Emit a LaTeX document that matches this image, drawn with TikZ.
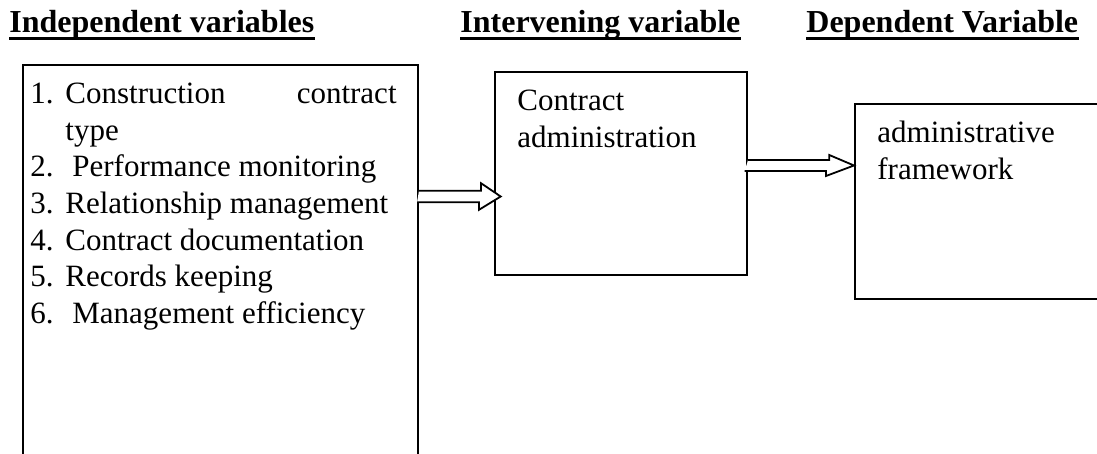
\documentclass[tikz,border=0pt]{standalone}
\usepackage{fontspec}
\setmainfont{Liberation Serif}
\begin{document}
\begin{tikzpicture}[x=0.5pt,y=-0.5pt,
  box/.style={draw,line width=1pt,inner sep=0pt,anchor=north west},
  title/.style={font=\fontsize{16}{19}\selectfont\bfseries,anchor=base west,inner sep=0pt},
  body/.style={font=\fontsize{15.5}{18.25}\selectfont,anchor=base west,inner sep=0pt},
  uline/.style={line width=1.5pt},
  dblarrow/.style={draw,line width=0.9pt,fill=white,line join=miter}]
\useasboundingbox (0,0) rectangle (1097,454);
% titles
\node[title] (t1) at (9,33) {Independent variables};
\node[title] (t2) at (460,33) {Intervening variable};
\node[title] (t3) at (806,33) {Dependent Variable};
\foreach \t in {t1,t2,t3}{
  \draw[uline] ([yshift=-2.6pt]\t.base west) -- ([yshift=-2.6pt]\t.base east);
}
% boxes
\node[box,minimum width=197.75pt,minimum height=215pt] (b1) at (21.5,64) {};
\node[box,minimum width=126pt,minimum height=101.5pt] (b2) at (494,71) {};
\node[box,minimum width=150pt,minimum height=97.5pt] (b3) at (854,103) {};
% box 1 text
\node[body] (n1) at (30,104) {1.};
\node[body] (i1a) at (65,104) {Construction};
\node[body,anchor=base east] (i1b) at (397,104) {contract};
\node[body] (i1c) at (65,140.5) {type};
\node[body] (n2) at (30,177) {2.};
\node[body] (i2) at (72,177) {Performance monitoring};
\node[body] (n3) at (30,213.5) {3.};
\node[body] (i3) at (65,213.5) {Relationship management};
\node[body] (n4) at (30,250) {4.};
\node[body] (i4) at (65,250) {Contract documentation};
\node[body] (n5) at (30,286.5) {5.};
\node[body] (i5) at (65,286.5) {Records keeping};
\node[body] (n6) at (30,323) {6.};
\node[body] (i6) at (72,323) {Management efficiency};
% box 2 text
\node[body] (c1) at (517,111) {Contract};
\node[body] (c2) at (517,147.5) {administration};
% box 3 text
\node[body] (d1) at (877,143) {administrative};
\node[body] (d2) at (877,179.5) {framework};
% arrows
\coordinate (a1s) at (b1.east |- 0,196.5);
\coordinate (a1t) at (500.7,196.5);
\draw[dblarrow] (a1s) ++(0,-5.8) -- ++(62,0) -- ++(0,-7.5) -- (a1t) -- ++(-21.7,13.3) -- ++(0,-7.5) -- ++(-62,0);
\coordinate (a2s) at (b2.east |- 0,165.5);
\coordinate (a2t) at (b3.west |- 0,165.5);
\draw[dblarrow] (a2s) ++(0,-5.5) -- ++(81.3,0) -- ++(0,-5) -- (a2t) -- ++(-28,10.5) -- ++(0,-5) -- ++(-81.3,0);
\end{tikzpicture}
\end{document}
